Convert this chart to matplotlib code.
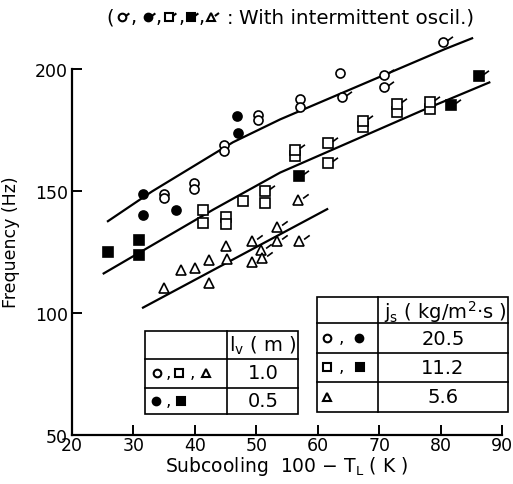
import numpy as np
import matplotlib
matplotlib.use("Agg")
import matplotlib.pyplot as plt
from matplotlib.path import Path
from matplotlib.patches import Rectangle

plt.rcParams['font.family'] = ['DejaVu Sans']
plt.rcParams['mathtext.default'] = 'regular'

# ---------------- data ----------------
circ_open_x = [35.0, 35.0, 39.9, 39.9, 44.8, 44.8, 50.3, 50.3, 57.1, 57.1, 63.6]
circ_open_y = [149, 147, 153.5, 151, 169, 166.3, 181, 179, 187.7, 184.4, 198.4]
circ_open_flag_x = [64.0, 70.8, 70.8, 80.4]
circ_open_flag_y = [188.5, 197.5, 192.6, 211]

circ_fill_x = [31.6, 31.6, 37.0, 46.9, 47.0]
circ_fill_y = [149, 140.3, 142.4, 180.7, 174]

sq_open_x = [41.3, 41.3, 45.1, 45.1, 47.9, 51.4, 56.3, 67.4, 72.9, 78.3]
sq_open_y = [142.4, 137, 139.5, 136.6, 146.1, 145.3, 164.2, 176.1, 182.3, 183.5]
sq_open_flag_x = [51.4, 56.3, 61.7, 61.7, 67.4, 72.9, 78.3]
sq_open_flag_y = [150.2, 167, 169.5, 161.3, 178.6, 185.6, 186.4]

sq_fill_x = [25.9, 30.9, 30.9]
sq_fill_y = [125.1, 130, 123.9]
sq_fill_flag_x = [57.0, 81.7, 86.3]
sq_fill_flag_y = [156, 185.2, 197.1]

tri_x = [35, 37.8, 40, 42.3, 42.3, 45.1, 45.2, 49.3]
tri_y = [110.3, 117.7, 118.5, 121.8, 112.3, 127.6, 122.2, 121]
tri_flag_x = [49.3, 50.8, 50.9, 53.4, 53.4, 56.8, 57.0]
tri_flag_y = [129.6, 126, 122.6, 135.4, 129.6, 146.5, 129.6]

curve1_x = [25.7, 33.0, 46.2, 53.9, 80.7, 85.3]
curve1_y = [137.4, 149.8, 170.0, 179.4, 208.2, 212.8]
curve2_x = [25.0, 43.0, 53.9, 76.7, 88.1]
curve2_y = [116, 142.4, 157.6, 182.7, 194.7]
curve3_x = [31.4, 45.2, 61.7]
curve3_y = [102, 120.6, 142.8]

x_ticks = [20, 30, 40, 50, 60, 70, 80, 90]
y_ticks = [50, 100, 150, 200]

lv_values = ["1.0", "0.5"]
js_values = ["20.5", "11.2", "5.6"]

# ---------------- figure ----------------
W, H = 513, 485
fig = plt.figure(figsize=(W / 100, H / 100), dpi=100)
ax = fig.add_axes([72 / W, 1 - 436 / H, 430 / W, (436 - 33.5) / H])
ax.set_xlim(20, 90)
ax.set_ylim(50, 215)

flag = Path([(0.45, 0.2), (1.0, 0.6)], [Path.MOVETO, Path.LINETO])
MS = 6.5
MEW = 1.2


def pts(x, y, marker, filled, flagged=False, ms=MS, axis=None, mew=MEW, fscale=2.1):
    a = axis if axis is not None else ax
    a.plot(x, y, linestyle='none', marker=marker, ms=ms,
           mfc='k' if filled else 'white', mec='k', mew=mew,
           clip_on=False, zorder=4)
    if flagged:
        a.plot(x, y, linestyle='none', marker=flag, ms=ms * fscale,
               mfc='none', mec='k', mew=mew, clip_on=False, zorder=4)


for cx, cy in [(curve1_x, curve1_y), (curve2_x, curve2_y), (curve3_x, curve3_y)]:
    ax.plot(cx, cy, color='k', lw=1.6, clip_on=False, zorder=3,
            solid_capstyle='butt')

pts(circ_open_x, circ_open_y, 'o', False)
pts(circ_open_flag_x, circ_open_flag_y, 'o', False, True)
pts(circ_fill_x, circ_fill_y, 'o', True)
pts(sq_open_x, sq_open_y, 's', False)
pts(sq_open_flag_x, sq_open_flag_y, 's', False, True)
pts(sq_fill_x, sq_fill_y, 's', True)
pts(sq_fill_flag_x, sq_fill_flag_y, 's', True, True)
pts(tri_x, tri_y, '^', False, ms=7)
pts(tri_flag_x, tri_flag_y, '^', False, True, ms=7)

for s in ['top', 'right']:
    ax.spines[s].set_visible(False)
for s in ['left', 'bottom']:
    ax.spines[s].set_linewidth(1.6)
ax.spines['left'].set_bounds(50, 200)
ax.set_xticks(x_ticks)
ax.set_yticks(y_ticks)
ax.tick_params(direction='in', length=7, width=1.4, labelsize=12.5, pad=1)
ax.tick_params(axis='y', pad=3)
ax.set_xlabel('Subcooling  100 − T$_\\mathregular{L}$ ( K )', fontsize=13.5, labelpad=0)
ax.set_ylabel('Frequency (Hz)', fontsize=12.5)
ax.yaxis.set_label_coords(-0.121, 0.482)

# ---------------- overlay (pixel coordinates) ----------------
ov = fig.add_axes([0, 0, 1, 1], zorder=5)
ov.set_xlim(0, W)
ov.set_ylim(H, 0)
ov.axis('off')
ov.patch.set_alpha(0)

LW = 1.2
SMS = 5.5   # table symbol size
SMEW = 1.5


def comma(x, y, fs=12):
    ov.text(x, y, ',', ha='center', va='baseline', fontsize=fs)


# left table
ov.add_patch(Rectangle((145, 332), 298 - 145, 415 - 332, fc='white', ec='k', lw=LW))
ov.plot([227, 227], [332, 415], color='k', lw=LW)
for yy in [360, 389]:
    ov.plot([145, 298], [yy, yy], color='k', lw=LW)
ov.text(263, 346, 'l$_\\mathregular{v}$ ( m )', ha='center', va='center', fontsize=14)
pts([157], [374], 'o', False, ms=SMS, axis=ov, mew=SMEW)
comma(168, 378)
pts([179], [374], 's', False, ms=SMS, axis=ov, mew=SMEW)
comma(192, 378)
pts([206], [374], '^', False, ms=SMS + 0.5, axis=ov, mew=SMEW)
pts([156], [402], 'o', True, ms=SMS, axis=ov, mew=SMEW)
comma(168, 406)
pts([181], [402], 's', True, ms=SMS, axis=ov, mew=SMEW)
for val, yc in zip(lv_values, [374, 402]):
    ov.text(263, yc, val, ha='center', va='center', fontsize=14)

# right table
ov.add_patch(Rectangle((317, 298), 508 - 317, 413 - 298, fc='white', ec='k', lw=LW))
ov.plot([378, 378], [298, 413], color='k', lw=LW)
for yy in [324, 354, 383]:
    ov.plot([317, 508], [yy, yy], color='k', lw=LW)
ov.text(445, 312, 'j$_\\mathregular{s}$ ( kg/m$^\\mathregular{2}$·s )', ha='center', va='center', fontsize=14)
pts([327], [339], 'o', False, ms=SMS, axis=ov, mew=SMEW)
comma(341, 343)
pts([359], [339], 'o', True, ms=SMS, axis=ov, mew=SMEW)
pts([327], [368], 's', False, ms=SMS, axis=ov, mew=SMEW)
comma(341, 372)
pts([360], [368], 's', True, ms=SMS, axis=ov, mew=SMEW)
pts([327], [398], '^', False, ms=SMS + 0.5, axis=ov, mew=SMEW)
for val, yc in zip(js_values, [340, 369, 398]):
    ov.text(443, yc, val, ha='center', va='center', fontsize=14)

# title with flagged symbols
ty = 18
ov.text(106, ty, '(', ha='left', va='center', fontsize=14)
pts([122], [ty], 'o', False, True, ms=5.5, axis=ov, mew=1.5, fscale=1.8)
pts([148], [ty], 'o', True, True, ms=5.5, axis=ov, mew=1.5, fscale=1.8)
pts([169], [ty], 's', False, True, ms=5.5, axis=ov, mew=1.5, fscale=1.8)
pts([191], [ty], 's', True, True, ms=5.5, axis=ov, mew=1.5, fscale=1.8)
pts([211], [ty], '^', False, True, ms=6, axis=ov, mew=1.5, fscale=1.8)
for cx in [134, 159, 182, 202]:
    comma(cx, ty + 5, fs=14)
ov.text(230, ty, ':', ha='center', va='center', fontsize=14)
ov.text(239, ty, 'With intermittent oscil.)', ha='left', va='center', fontsize=14.3)

fig.savefig('out.png', dpi=100)
